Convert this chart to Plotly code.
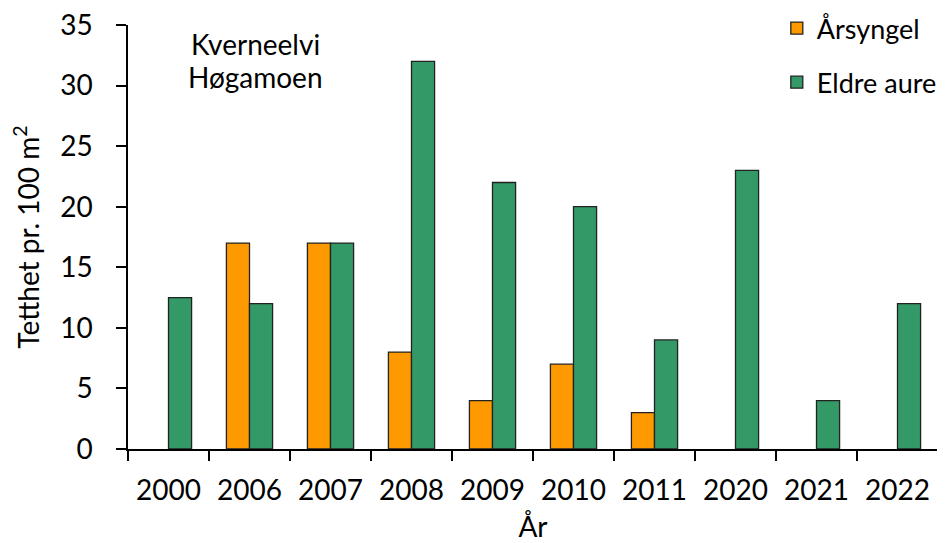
import plotly.graph_objects as go

years = ["2000", "2006", "2007", "2008", "2009", "2010", "2011", "2020", "2021", "2022"]
arsyngel = [None, 17, 17, 8, 4, 7, 3, None, None, None]
eldre_aure = [12.5, 12, 17, 32, 22, 20, 9, 23, 4, 12]

FONT = "Lato, Carlito, sans-serif"
FS = 28

# page body has an 8px default margin; the figure is sized to the visible area
W, H = 937, 535
ML, MR, MT, MB = 120, 7, 0, 94
PH = H - MT - MB  # 441

fig = go.Figure()
fig.add_trace(go.Bar(x=years, y=arsyngel, name="Årsyngel", legendgroup="a",
                     marker=dict(color="#FF9900", line=dict(color="#222222", width=1.3))))
fig.add_trace(go.Bar(x=years, y=eldre_aure, name="Eldre aure", legendgroup="b",
                     marker=dict(color="#339966", line=dict(color="#222222", width=1.3))))

fig.update_layout(
    width=W, height=H,
    margin=dict(l=ML, r=MR, t=MT, b=MB, autoexpand=False),
    plot_bgcolor="white", paper_bgcolor="white",
    barmode="group", bargap=0.43, bargroupgap=0,
    font=dict(family=FONT, size=FS, color="black"),
    legend=dict(x=0.801, xanchor="left", y=1.009, yanchor="top",
                font=dict(size=27), tracegroupgap=16, bgcolor="rgba(0,0,0,0)",
                itemwidth=30),
    showlegend=True,
    xaxis=dict(showline=True, linecolor="black", linewidth=1.5, automargin=False,
               ticks="outside", tickson="boundaries", ticklen=10, tickcolor="black",
               tickwidth=1.5, tickfont=dict(size=FS), ticklabelstandoff=16,
               ticklabeloverflow="allow",
               title=dict(text="År", font=dict(size=FS), standoff=16)),
    yaxis=dict(range=[0, 35], dtick=5, showline=True, linecolor="black", linewidth=1.5,
               domain=[0, 424 / PH], automargin=False,
               ticks="outside", ticklen=10, tickcolor="black", tickwidth=1.5,
               showgrid=False, zeroline=False, tickfont=dict(size=FS),
               ticklabelstandoff=18, ticklabeloverflow="allow",
               title=dict(text="Tetthet pr. 100 m<sup>2</sup>", font=dict(size=FS), standoff=26)),
)

fig.add_annotation(x=0.157, y=0.918, xref="paper", yref="paper", xanchor="center", yanchor="middle",
                   text="Kverneelvi", showarrow=False, font=dict(size=FS))
fig.add_annotation(x=0.157, y=0.843, xref="paper", yref="paper", xanchor="center", yanchor="middle",
                   text="Høgamoen", showarrow=False, font=dict(size=FS))

fig.write_html("out.html")
